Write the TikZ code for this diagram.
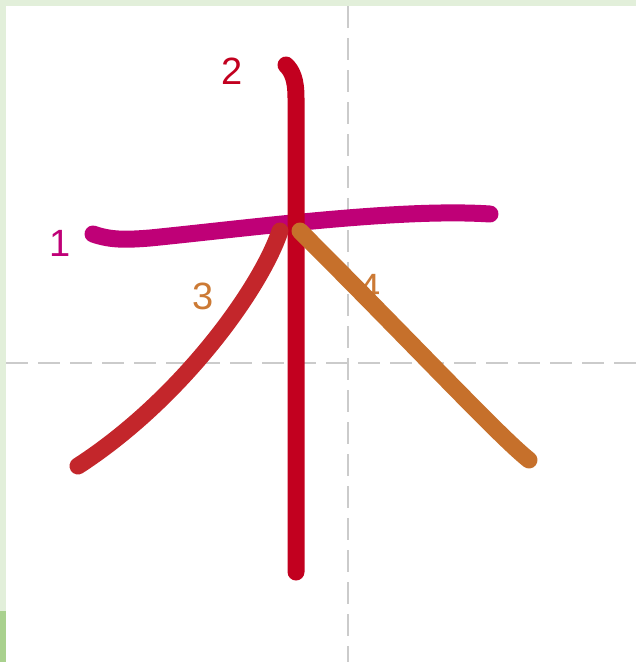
\documentclass[tikz,border=0pt]{standalone}
\usepackage{fontspec}
\setmainfont{Liberation Sans}
\definecolor{bandlight}{HTML}{E2EFDA}
\definecolor{banddark}{HTML}{A9D18E}
\definecolor{gridgray}{HTML}{CBCBCB}
\definecolor{sone}{HTML}{BF0077}
\definecolor{stwo}{HTML}{C2001F}
\definecolor{sthree}{HTML}{C3262B}
\definecolor{sfour}{HTML}{C6702B}
\definecolor{lthree}{HTML}{CC7A35}
\begin{document}
\begin{tikzpicture}[x=1pt,y=-1pt,
  stroke/.style={line width=17pt,line cap=round,line join=round},
  guide/.style={gridgray,line width=2.5pt,dash pattern=on 22pt off 10pt},
  num/.style={font=\fontsize{38}{38}\selectfont,inner sep=0pt}]
\useasboundingbox (0,0) rectangle (636,662);
\fill[white] (0,0) rectangle (636,662);
\fill[bandlight] (0,0) rectangle (636,6);
\fill[bandlight] (0,0) rectangle (6,662);
\fill[banddark] (0,611) rectangle (6,662);
% guides
\coordinate (vt) at (348,6);
\coordinate (vb) at (348,662);
\coordinate (hl) at (6,363);
\coordinate (hr) at (636,363);
\draw[guide] (vt) -- (vb);
\draw[guide] (hl) -- (hr);
% labels
\node[num,text=sone] (l1) at (60,243) {1};
\node[num,text=stwo] (l2) at (232,71) {2};
\node[num,text=lthree] (l3) at (203,296) {3};
\node[num,text=lthree] (l4) at (370,287) {4};
% strokes
\draw[stroke,sone] (93,234) .. controls (110,240) and (125,240) .. (150,238)
  .. controls (250,228) and (400,208) .. (490,214);
\draw[stroke,stwo] (286,65) .. controls (292,71) and (296,79) .. (296,98) -- (296,572);
\draw[stroke,sthree] (280,231) .. controls (260,290) and (180,400) .. (78,466);
\draw[stroke,sfour] (300,231) .. controls (420,351) and (500,437) .. (529,460);
\end{tikzpicture}
\end{document}
